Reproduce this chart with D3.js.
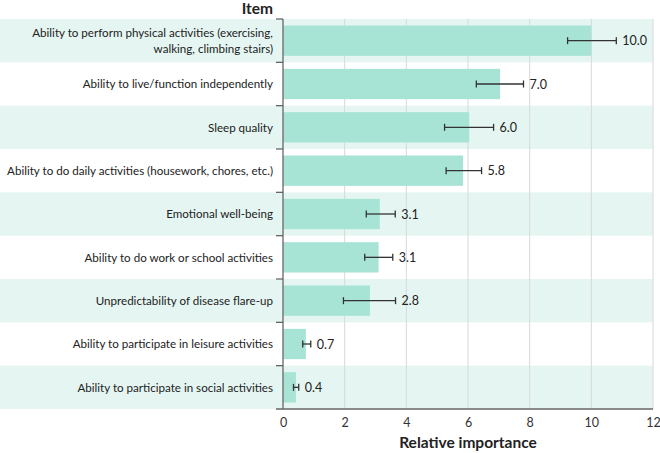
<!DOCTYPE html>
<html>
<head>
<meta charset="utf-8">
<script src="https://cdn.jsdelivr.net/npm/d3@7"></script>
<style>
  body { margin:0; background:#fff; }
  text { font-family: Lato, "Open Sans", sans-serif; }
</style>
</head>
<body>
<div id="chart"></div>
<script>
// data
const items = [
  ["Ability to perform physical activities (exercising,", "walking, climbing stairs)"],
  ["Ability to live/function independently"],
  ["Sleep quality"],
  ["Ability to do daily activities (housework, chores, etc.)"],
  ["Emotional well-being"],
  ["Ability to do work or school activities"],
  ["Unpredictability of disease flare-up"],
  ["Ability to participate in leisure activities"],
  ["Ability to participate in social activities"]
]
const values  = [10.0, 7.04, 6.04, 5.84, 3.14, 3.1, 2.82, 0.74, 0.42]
const errLow  = [9.23, 6.27, 5.24, 5.29, 2.70, 2.65, 1.96, 0.64, 0.34]
const errHigh = [10.81, 7.8, 6.83, 6.44, 3.64, 3.56, 3.65, 0.90, 0.51]
const xTicks = [0, 2, 4, 6, 8, 10, 12]

const margin = {top:19, right:7, bottom:44, left:283}
const W = 660, H = 453
const width = W - margin.left - margin.right,
      height = H - margin.top - margin.bottom

const svg = d3.select("#chart").append("svg")
    .attr("width", W)
    .attr("height", H)

const g = svg.append("g")
    .attr("transform", "translate(" + margin.left + "," + margin.top + ")")

const x = d3.scaleLinear().domain([0, 12]).range([0, width])
const y = d3.scaleBand().domain(d3.range(items.length)).range([0, height]).paddingInner(0).paddingOuter(0)
const inner = 0.3 // bar gap inside a row

// ----- row backgrounds -----
g.selectAll("rect.band")
    .data(d3.range(items.length).filter(i => i % 2 == 0))
    .enter()
    .append("rect")
        .attr("class", "band")
        .attr("x", -margin.left)
        .attr("y", i => y(i))
        .attr("width", width + margin.left)
        .attr("height", y.bandwidth())
        .attr("fill", "#e5f6f2")

// ----- grid -----
g.selectAll("line.grid")
    .data(xTicks.slice(1))
    .enter()
    .append("line")
        .attr("x1", d => x(d)).attr("x2", d => x(d))
        .attr("y1", 0).attr("y2", height)
        .attr("stroke", "#d6d9d8")
        .attr("stroke-width", 1)

// ----- bars -----
const bh = y.bandwidth() * (1 - inner)
g.selectAll("rect.bar")
    .data(values)
    .enter()
    .append("rect")
        .attr("x", 0)
        .attr("y", (d, i) => y(i) + (y.bandwidth() - bh) / 2)
        .attr("width", d => x(d))
        .attr("height", bh)
        .attr("fill", "#a7e4d6")

// ----- error bars -----
const cy = i => y(i) + y.bandwidth() / 2
const eb = g.selectAll("g.err")
    .data(values)
    .enter()
    .append("g")
    .attr("stroke", "#333")
    .attr("stroke-width", 1.3)

eb.append("line")
    .attr("x1", (d, i) => x(errLow[i])).attr("x2", (d, i) => x(errHigh[i]))
    .attr("y1", (d, i) => cy(i)).attr("y2", (d, i) => cy(i))
eb.append("line")
    .attr("x1", (d, i) => x(errLow[i])).attr("x2", (d, i) => x(errLow[i]))
    .attr("y1", (d, i) => cy(i) - 3.5).attr("y2", (d, i) => cy(i) + 3.5)
eb.append("line")
    .attr("x1", (d, i) => x(errHigh[i])).attr("x2", (d, i) => x(errHigh[i]))
    .attr("y1", (d, i) => cy(i) - 3.5).attr("y2", (d, i) => cy(i) + 3.5)

// value labels
g.selectAll("text.val")
    .data(values)
    .enter()
    .append("text")
        .attr("x", (d, i) => x(errHigh[i]) + 6)
        .attr("y", (d, i) => cy(i))
        .attr("dy", "0.36em")
        .attr("font-size", 12.5)
        .attr("fill", "#222")
        .text(d => d3.format(".1f")(d))

// ----- y axis (ticks at row boundaries) -----
g.append("line")
    .attr("x1", 0).attr("x2", 0).attr("y1", 0).attr("y2", height)
    .attr("stroke", "#666").attr("stroke-width", 1.3)
g.selectAll("line.ytick")
    .data(d3.range(items.length))
    .enter()
    .append("line")
        .attr("x1", -7).attr("x2", 0)
        .attr("y1", i => y(i)).attr("y2", i => y(i))
        .attr("stroke", "#666").attr("stroke-width", 1.3)

const lab = g.selectAll("text.item")
    .data(items)
    .enter()
    .append("text")
        .attr("text-anchor", "end")
        .attr("font-size", 11.6)
        .attr("fill", "#222")
        .attr("transform", (d, i) => "translate(-10," + cy(i) + ")")
lab.selectAll("tspan")
    .data(d => d.map((t, k) => ({t: t, k: k, n: d.length})))
    .enter()
    .append("tspan")
        .attr("x", 0)
        .attr("y", d => (d.k - (d.n - 1) / 2) * 15.5)
        .attr("dy", "0.36em")
        .text(d => d.t)

// ----- x axis -----
const xAxis = g.append("g")
    .attr("transform", "translate(0," + height + ")")
    .call(d3.axisBottom(x).tickValues(xTicks).tickSize(0).tickPadding(9))
xAxis.select(".domain").remove()
xAxis.append("line")
    .attr("x1", -7).attr("x2", width)
    .attr("stroke", "#666").attr("stroke-width", 1.3)
xAxis.selectAll("text")
    .attr("font-size", 12.5)
    .attr("fill", "#333")
    .style("font-family", "Lato, sans-serif")

// titles
svg.append("text")
    .attr("x", margin.left - 10)
    .attr("y", 14)
    .attr("text-anchor", "end")
    .attr("font-size", 15.5)
    .attr("font-weight", "bold")
    .attr("fill", "#222")
    .text("Item")

svg.append("text")
    .attr("x", margin.left + width / 2)
    .attr("y", 448)
    .attr("text-anchor", "middle")
    .attr("font-size", 15.5)
    .attr("font-weight", "bold")
    .attr("fill", "#222")
    .text("Relative importance")
</script>
</body>
</html>
